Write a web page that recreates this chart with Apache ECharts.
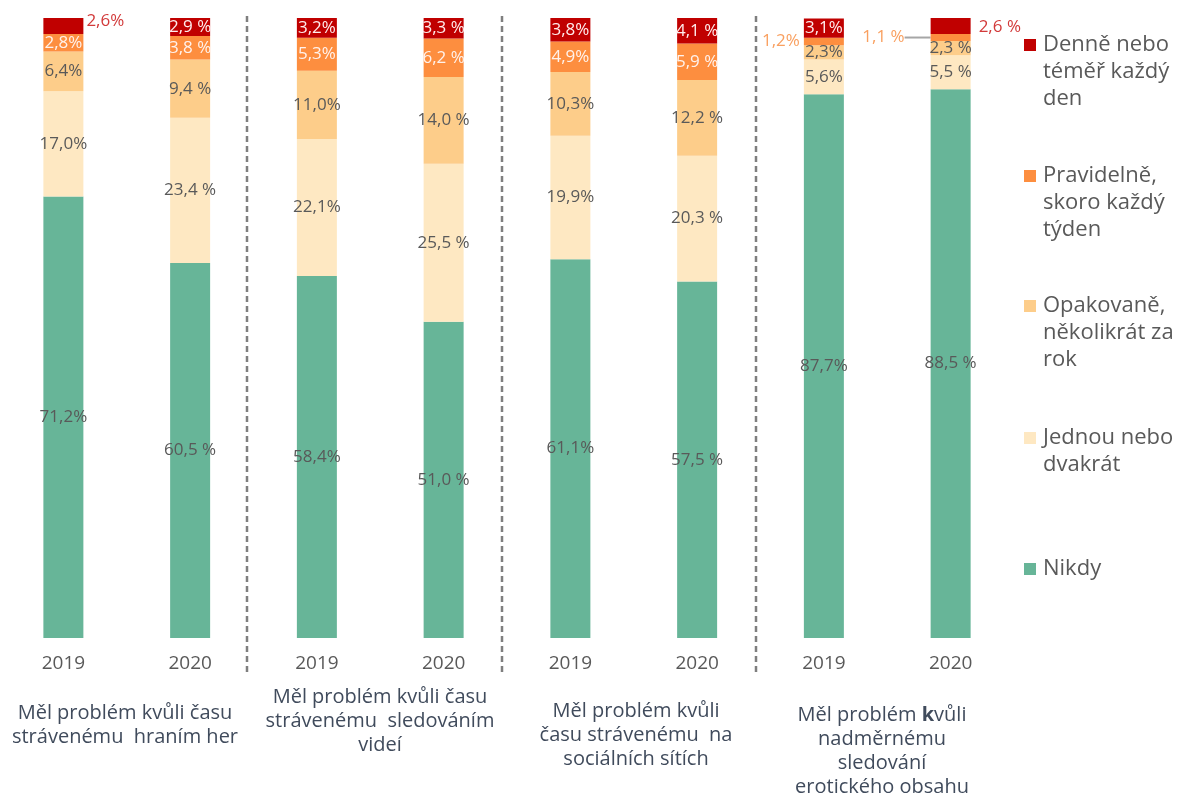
<!DOCTYPE html>
<html><head><meta charset="utf-8">
<script src="https://cdn.jsdelivr.net/npm/echarts@6/dist/echarts.min.js"></script>
<style>html,body{margin:0;padding:0;background:#fff}#c{width:1178px;height:794px}</style>
</head><body><div id="c"></div>
<script>
const categories = ['2019','2020','2019','2020','2019','2020','2019','2020'];
const groupLabels = [
  'Měl problém kvůli času\nstrávenému  hraním her',
  'Měl problém kvůli času\nstrávenému  sledováním\nvideí',
  'Měl problém kvůli\nčasu strávenému  na\nsociálních sítích',
  'Měl problém {b|k}vůli\nnadměrnému\nsledování\nerotického obsahu'
];
const seriesNames = ['Nikdy','Jednou nebo dvakrát','Opakovaně, několikrát za rok','Pravidelně, skoro každý týden','Denně nebo téměř každý den'];
const legendLabels = ['Nikdy','Jednou nebo\ndvakrát','Opakovaně,\nněkolikrát za\nrok','Pravidelně,\nskoro každý\ntýden','Denně nebo\ntéměř každý\nden'];
const nikdy      = [71.2, 60.5, 58.4, 51.0, 61.1, 57.5, 87.7, 88.5];
const jednou     = [17.0, 23.4, 22.1, 25.5, 19.9, 20.3, 5.6, 5.5];
const opakovane  = [6.4, 9.4, 11.0, 14.0, 10.3, 12.2, 2.3, 2.3];
const pravidelne = [2.8, 3.8, 5.3, 6.2, 4.9, 5.9, 1.2, 1.1];
const denne      = [2.6, 2.9, 3.2, 3.3, 3.8, 4.1, 3.1, 2.6];

const colors = ['#67B598', '#FEE8C2', '#FDCD8A', '#FD8E3F', '#C00000'];
const labelColors = ['#595959', '#595959', '#595959', '#FFF2EC', '#FFECEC'];
const FONT = 'Open Sans';

function fmt(v, idx) {
  const s = v.toFixed(1).replace('.', ',');
  return categories[idx] === '2020' ? s + ' %' : s + '%';
}

const allData = [nikdy, jednou, opakovane, pravidelne, denne];

const special = {
  '4-0': {position: 'right', distance: 3, color: '#D23A3A', offset: [0, -5]},
  '4-7': {position: 'right', distance: 8, color: '#D23A3A', offset: [0, 1]},
  '3-6': {position: 'left', distance: 4, color: '#F9A060'},
  '3-7': {position: 'left', distance: 26, color: '#F9A060', line: true}
};

const series = allData.map((arr, si) => ({
  name: seriesNames[si],
  type: 'bar',
  stack: 'total',
  barWidth: 40,
  itemStyle: {color: colors[si]},
  label: {
    show: true,
    position: 'inside',
    fontFamily: FONT,
    fontSize: 17,
    color: labelColors[si],
    formatter: p => fmt(p.value, p.dataIndex)
  },
  data: arr.map((v, i) => {
    const sp = special[si + '-' + i];
    if (!sp) return v;
    const item = {value: v, label: {position: sp.position, distance: sp.distance, color: sp.color}};
    if (sp.offset) item.label.offset = sp.offset;
    if (sp.line) item.labelLine = {show: true, lineStyle: {color: '#A6A6A6', width: 2}};
    return item;
  })
}));

const chart = echarts.init(document.getElementById('c'));
chart.setOption({
  animation: false,
  textStyle: {fontFamily: FONT},
  grid: {left: -2, width: 1016, top: 18, bottom: 156},
  xAxis: {
    type: 'category',
    data: categories,
    axisLine: {show: false},
    axisTick: {show: false},
    axisLabel: {color: '#595959', fontSize: 19, fontFamily: FONT, margin: 16}
  },
  yAxis: {type: 'value', min: 0, max: 100, show: false},
  series: series
});

const g = [];
const groupCenters = [125, 380, 636, 882];
const groupTops = [701, 685, 699, 703];
groupLabels.forEach((t, i) => {
  g.push({type: 'text', x: groupCenters[i], y: groupTops[i],
    style: {text: t, fill: '#404B5C', fontSize: 20, fontFamily: FONT, align: 'center', verticalAlign: 'top', lineHeight: 24,
      rich: {b: {fontWeight: 'bold', fontSize: 20, fill: '#404B5C', fontFamily: FONT}}}});
});
[247, 502, 756].forEach(x => {
  g.push({type: 'line', shape: {x1: x, y1: 16, x2: x, y2: 672},
    style: {stroke: '#7F7F7F', lineWidth: 2.5, lineDash: [6, 4]}});
});
const legendTops = [569, 438, 306, 176, 45];
for (let i = 4; i >= 0; i--) {
  g.push({type: 'rect', shape: {x: 1024, y: legendTops[i] - 6, width: 12, height: 12}, style: {fill: colors[i]}});
  g.push({type: 'text', x: 1043, y: legendTops[i] - 14,
    style: {text: legendLabels[i], fill: '#595959', fontSize: 22, fontFamily: FONT, verticalAlign: 'top', lineHeight: 27}});
}
chart.setOption({graphic: {elements: g}});
</script>
</body></html>
